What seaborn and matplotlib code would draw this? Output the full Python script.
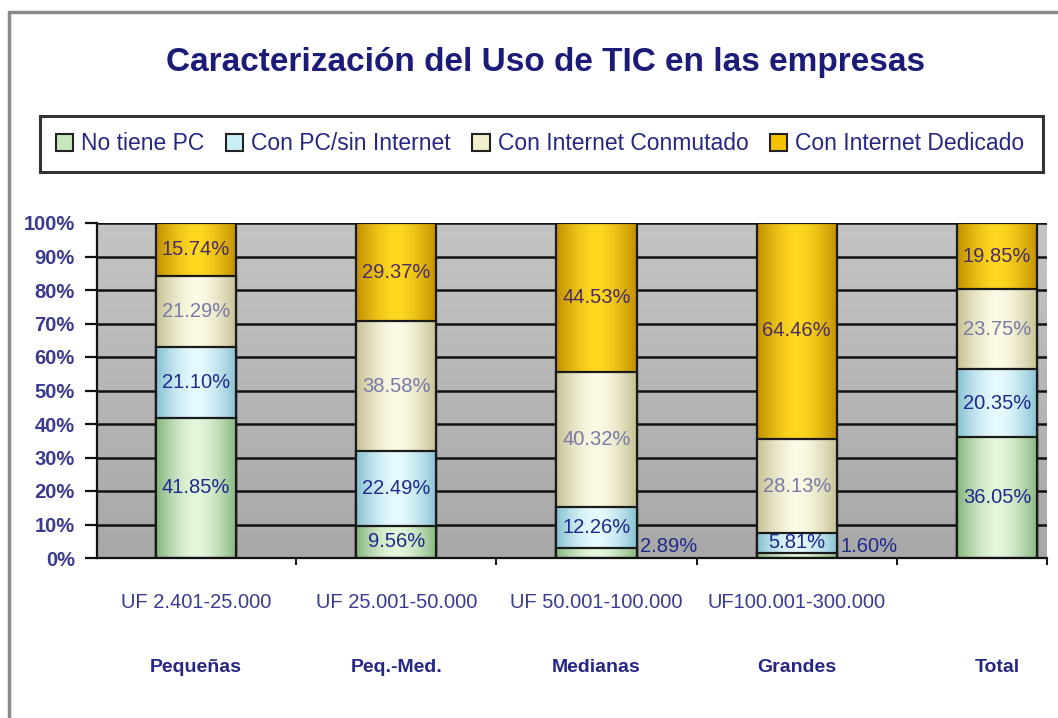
import numpy as np
import pandas as pd
import matplotlib
matplotlib.use("Agg")
import matplotlib.pyplot as plt
import seaborn as sns
from matplotlib.patches import Rectangle, Patch
from matplotlib.lines import Line2D
from matplotlib.colors import to_rgb
from matplotlib.transforms import blended_transform_factory

# ---------------- data ----------------
categories = ["Pequeñas", "Peq.-Med.", "Medianas", "Grandes", "Total"]
ranges = ["UF 2.401-25.000", "UF 25.001-50.000", "UF 50.001-100.000", "UF100.001-300.000", ""]
series = ["No tiene PC", "Con PC/sin Internet", "Con Internet Conmutado", "Con Internet Dedicado"]
no_pc = [41.85, 9.56, 2.89, 1.60, 36.05]
pc_sin_internet = [21.10, 22.49, 12.26, 5.81, 20.35]
conmutado = [21.29, 38.58, 40.32, 28.13, 23.75]
dedicado = [15.74, 29.37, 44.53, 64.46, 19.85]
yticks = [0, 10, 20, 30, 40, 50, 60, 70, 80, 90, 100]

values = [no_pc, pc_sin_internet, conmutado, dedicado]
base_colors = ["#c6e8bc", "#c8eef6", "#f2efcc", "#f5c200"]
edge_colors = ["#86b47e", "#86c0d0", "#c4bf92", "#c08e00"]
center_colors = ["#e4f7dc", "#e6fbff", "#fdfbe6", "#ffd820"]
label_colors = ["#1f2a8c", "#1f2a8c", "#7b79a6", "#4a2c64"]
NAVY = "#262684"

sns.set_style("white")
plt.rcParams["font.family"] = ["Liberation Sans", "DejaVu Sans"]

fig = plt.figure(figsize=(10.58, 7.18), dpi=100)
fig.patch.set_facecolor("white")
W, H = 1058, 718
ax = fig.add_axes([97 / W, 1 - 558 / H, (1047 - 97) / W, (558 - 223) / H])

# background gradient
bg = np.linspace(0, 1, 256).reshape(-1, 1)
top_c, bot_c = np.array(to_rgb("#c4c4c4")), np.array(to_rgb("#a8a8a8"))
bg_img = top_c[None, None, :] * (1 - bg[..., None]) + bot_c[None, None, :] * bg[..., None]
ax.imshow(bg_img, extent=[0, 1, 0, 1], transform=ax.transAxes, aspect="auto", zorder=0.1)

# stacked bars via cumulative heights (top layer first)
cum = np.cumsum(np.array(values), axis=0)
for k in range(3, -1, -1):
    d = pd.DataFrame({"cat": categories, "h": cum[k]})
    sns.barplot(data=d, x="cat", y="h", order=categories, color=base_colors[k],
                saturation=1, width=0.4, ax=ax, edgecolor="#1a1a1a", linewidth=1.6)

# gradient fills clipped to each bar patch
t = np.linspace(0, 1, 200)
prof = 1 - np.abs(2 * t - 1) ** 1.6
patches = list(ax.patches)
for layer_idx, k in enumerate(range(3, -1, -1)):
    e = np.array(to_rgb(edge_colors[k]))
    c = np.array(to_rgb(center_colors[k]))
    row = e[None, :] * (1 - prof[:, None]) + c[None, :] * prof[:, None]
    img = row[None, :, :]
    for p in patches[layer_idx * 5:(layer_idx + 1) * 5]:
        x0, y0, w, h = p.get_x(), p.get_y(), p.get_width(), p.get_height()
        p.set_facecolor("none")
        p.set_zorder(3 + 2 * layer_idx + 1)
        im = ax.imshow(img, extent=[x0, x0 + w, y0, y0 + h], aspect="auto",
                       zorder=3 + 2 * layer_idx, interpolation="bilinear")
        im.set_clip_path(p)

# data labels
for k in range(4):
    for i, v in enumerate(values[k]):
        bottom = cum[k][i] - v
        if v < 3:
            x, y = i + 0.36, 3.3
        else:
            x, y = i, bottom + v / 2
        ax.text(x, y, f"{v:.2f}%", ha="center", va="center", fontsize=14.5,
                color=label_colors[k], zorder=20)

ax.set_xlim(-0.495, 4.25)
ax.set_ylim(0, 100)
ax.set_yticks(yticks)
ax.set_yticklabels([f"{v}%" for v in yticks], fontsize=14.5, fontweight="bold", color="#3a3a90")
ax.yaxis.grid(True, color="#111111", linewidth=1.8, zorder=1)
ax.xaxis.grid(False)
ax.set_axisbelow(True)
for s in ["top", "right"]:
    ax.spines[s].set_visible(False)
for s in ["left", "bottom"]:
    ax.spines[s].set_color("#111111")
    ax.spines[s].set_linewidth(1.6)
    ax.spines[s].set_zorder(30)
ax.tick_params(axis="y", direction="out", length=9, width=1.6, color="#111111", pad=7, left=True)
ax.set_xticks(range(5))
ax.set_xticklabels([""] * 5)
ax.tick_params(axis="x", length=0)
ax.set_xticks([0.5, 1.5, 2.5, 3.5, 4.25], minor=True)
ax.tick_params(axis="x", which="minor", direction="out", length=5, width=1.4, color="#111111", bottom=True)
ax.set_xlabel("")
ax.set_ylabel("")

tr = blended_transform_factory(ax.transData, ax.transAxes)
for i in range(5):
    ax.text(i, -45 / 335, ranges[i], transform=tr, ha="center", va="center",
            fontsize=14.5, color="#3a3a90", clip_on=False)
    ax.text(i, -110 / 335, categories[i], transform=tr, ha="center", va="center",
            fontsize=14, fontweight="bold", color=NAVY, clip_on=False)

# title
fig.text(546 / W, 1 - 63 / H, "Caracterización del Uso de TIC en las empresas",
         ha="center", va="center", fontsize=24, fontweight="bold", color="#1c1c78")

# legend
handles = [Patch(facecolor=base_colors[k], edgecolor="#222222", linewidth=1.5) for k in range(4)]
leg = fig.legend(handles, series, ncol=4, loc="center", bbox_to_anchor=(540 / W, 1 - 144 / H),
                 frameon=False, handlelength=0.75, handleheight=0.75, handletextpad=0.35,
                 columnspacing=0.95, fontsize=16.5, labelcolor=NAVY)
fig.add_artist(Rectangle((40 / W, 1 - 172 / H), (1043 - 40) / W, (172 - 116) / H,
                         transform=fig.transFigure, facecolor="none", edgecolor="#333333",
                         linewidth=2.2))

# outer frame lines
fig.add_artist(Line2D([9 / W, 9 / W], [0, 1 - 12 / H], transform=fig.transFigure,
                      color="#8a8a8a", linewidth=2.5))
fig.add_artist(Line2D([9 / W, 1], [1 - 12 / H, 1 - 12 / H], transform=fig.transFigure,
                      color="#8a8a8a", linewidth=2.5))

fig.savefig("out.png", dpi=100)
